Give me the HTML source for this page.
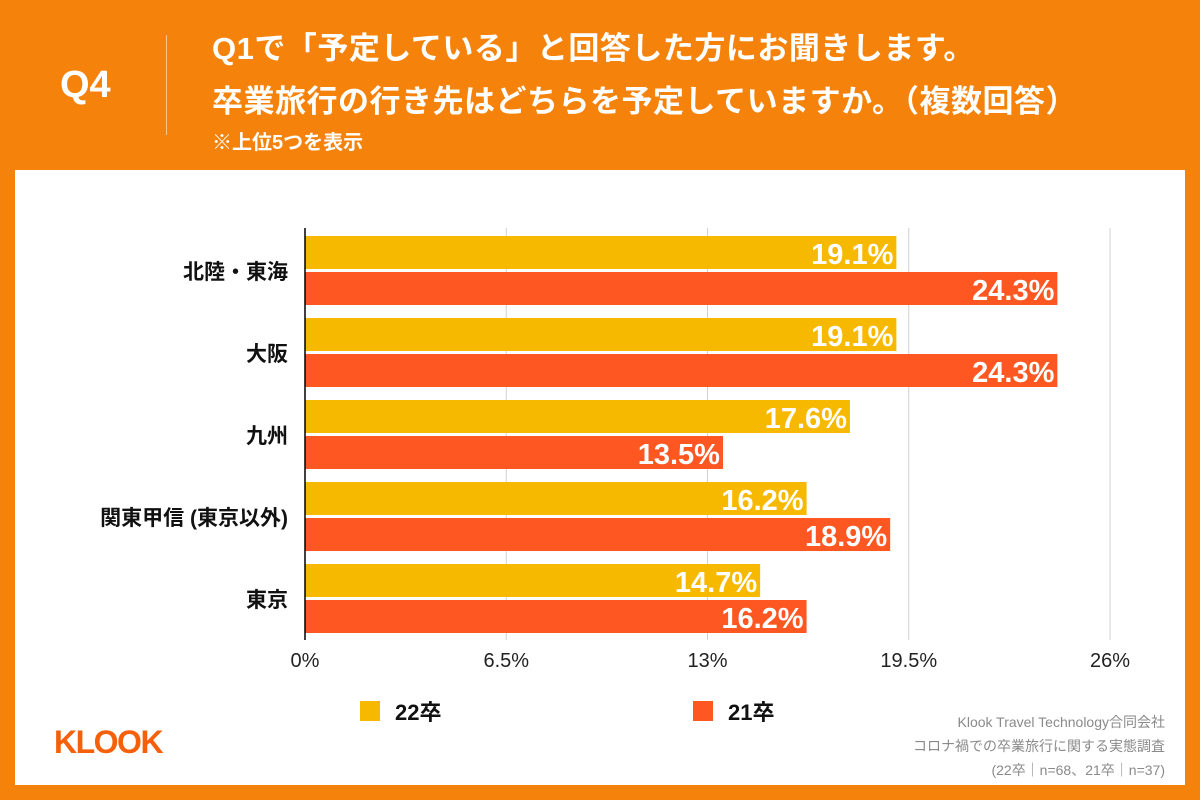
<!DOCTYPE html>
<html><head><meta charset="utf-8"><style>
body{margin:0;width:1200px;height:800px;background:#f5820a;font-family:"Liberation Sans","Noto Sans CJK JP",sans-serif;position:relative;overflow:hidden}
.abs{position:absolute}
</style></head><body>
<div class="abs" style="left:60px;top:64px;color:#fff;font-size:38px;font-weight:bold">Q4</div>
<div class="abs" style="left:166px;top:35px;width:1px;height:100px;background:#fbc48a"></div>
<div class="abs" style="left:212px;top:22px;color:#fff;font-size:31px;font-weight:bold;line-height:53px;white-space:nowrap;letter-spacing:0.5px">Q1で「予定している」と回答した方にお聞きします。<br>卒業旅行の行き先はどちらを予定していますか。（複数回答）</div>
<div class="abs" style="left:212px;top:126px;color:#fff;font-size:20px;font-weight:bold">※上位5つを表示</div>
<div class="abs" style="left:15px;top:170px;width:1170px;height:615px;background:#fff"></div>
<svg class="abs" style="left:0;top:0" width="1200" height="800">
<g id="g"></g></svg>
<div class="abs" style="left:54px;top:724px;color:#f5600a;font-size:32px;font-weight:bold;letter-spacing:-1.5px">KLOOK</div>
<div class="abs" style="right:35px;top:710px;color:#8a8a8a;font-size:14px;line-height:24px;text-align:right">Klook Travel Technology合同会社<br>コロナ禍での卒業旅行に関する実態調査<br>(22卒｜n=68、21卒｜n=37)</div>
<script>
const categories=["北陸・東海","大阪","九州","関東甲信 (東京以外)","東京"];
const s22=[19.1,19.1,17.6,16.2,14.7];
const s21=[24.3,24.3,13.5,18.9,16.2];
const ticks=[0,6.5,13,19.5,26];
const tickLabels=["0%","6.5%","13%","19.5%","26%"];
const seriesNames=["22卒","21卒"];
const colors=["#f7b900","#ff5722"];
const NS="http://www.w3.org/2000/svg",g=document.getElementById('g');
const x=v=>305+v*(805/26);
const y0=228,band=82;
function el(t,a,txt){const e=document.createElementNS(NS,t);for(const k in a)e.setAttribute(k,a[k]);if(txt!=null)e.textContent=txt;g.appendChild(e);return e;}
ticks.forEach((t,i)=>{
 if(i>0){const l=el('line',{x1:x(t),x2:x(t),y1:y0,y2:640,stroke:'#d0d0d0'});
 
 }
 const tx=el('text',{x:x(t),y:667,'text-anchor':'middle','font-size':20,fill:'#222'},tickLabels[i]);
 
 
});
categories.forEach((c,i)=>{
 const top=y0+8+i*band;
 const lb=el('text',{x:288,y:top+43,'text-anchor':'end','font-size':21,'font-weight':'bold',fill:'#111'},c);
 
 
 [[s22,0],[s21,1]].forEach(([s,k])=>{
  const by=top+k*36;
  const r=el('rect',{x:x(0),y:by,width:x(s[i])-x(0),height:33,fill:colors[k]});
  
  
  const v=el('text',{x:x(s[i])-3,y:by+28,'text-anchor':'end','font-size':29,'font-weight':'bold',fill:'#fff'},s[i].toFixed(1)+'%');
  
  
 });
});
const ax=el('line',{x1:305,x2:305,y1:y0,y2:640,stroke:'#000','stroke-width':1.5});


seriesNames.forEach((n,k)=>{
 const lx=[360,693][k];
 const r=el('rect',{x:lx,y:701,width:20,height:20,fill:colors[k]});
 
 
 const t=el('text',{x:lx+35,y:720,'font-size':22,'font-weight':'bold',fill:'#111'},n);
 
 
});
</script>
</body></html>
